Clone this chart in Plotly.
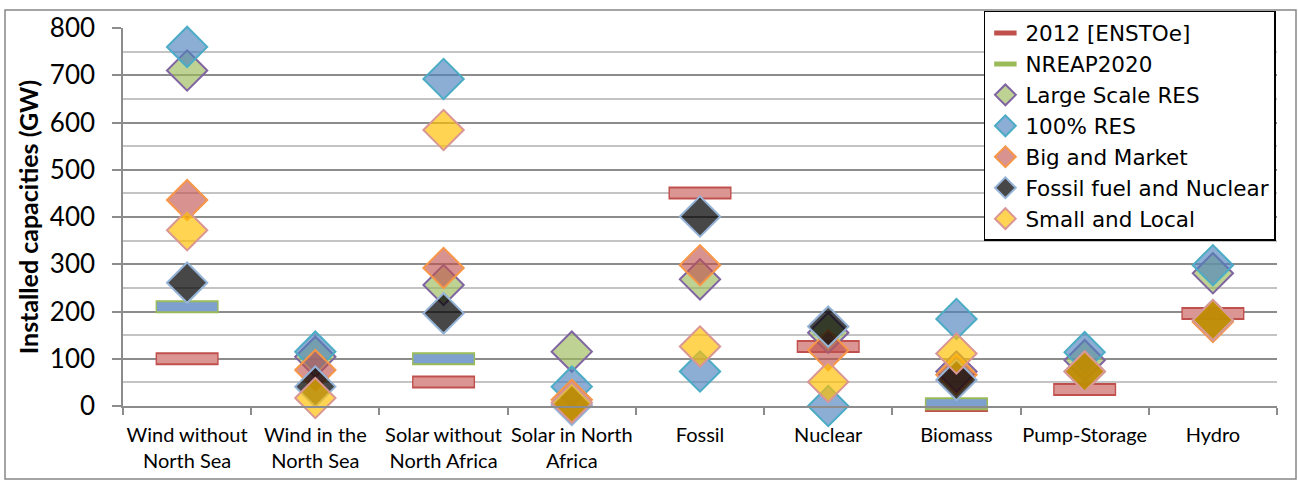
import plotly.graph_objects as go

categories = ["Wind without<br>North Sea", "Wind in the<br>North Sea", "Solar without<br>North Africa",
              "Solar in North<br>Africa", "Fossil", "Nuclear", "Biomass", "Pump-Storage", "Hydro"]

enstoe_2012 = [100, None, 51, None, 451, 126, 1, 35, 196]
nreap_2020 = [210, None, 100, None, None, None, 5, None, None]
large_scale_res = [710, 104, 256, 115, 268, 155, 73, 97, 281]
res_100 = [760, 115, 692, 41, 73, 0, 184, 114, 298]
big_and_market = [436, 76, 292, 13, 298, 118, 66, 73, 178]
fossil_and_nuclear = [261, 41, 196, 2, 401, 168, 55, 73, 182]
small_and_local = [372, 17, 584, 7, 126, 51, 111, 73, 182]

FONT = "Lato"
LEGEND_FONT = "DejaVu Sans"
fig = go.Figure()

def add_bar(name, values, fill, edge):
    # edge (outer) and fill (inner) horizontal dash markers
    fig.add_trace(go.Scatter(x=categories, y=values, name=name, mode="markers", cliponaxis=False,
                             legendgroup=name, showlegend=True,
                             marker=dict(symbol="line-ew", size=45, color=edge,
                                         line=dict(color=edge, width=13))))
    fig.add_trace(go.Scatter(x=categories, y=values, name=name, mode="markers", cliponaxis=False,
                             legendgroup=name, showlegend=False, hoverinfo="skip",
                             marker=dict(symbol="line-ew", size=43, color=fill,
                                         line=dict(color=fill, width=9))))

def add_diamond(name, values, fill, edge):
    fig.add_trace(go.Scatter(x=categories, y=values, name=name, mode="markers", cliponaxis=False,
                             marker=dict(symbol="diamond", size=31, color=fill,
                                         line=dict(color=edge, width=2))))

add_bar("2012 [ENSTOe]", enstoe_2012, "rgb(219,150,148)", "#C0504D")
add_bar("NREAP2020", nreap_2020, "rgb(125,160,207)", "#9BBB59")
add_diamond("Large Scale RES", large_scale_res, "rgba(155,187,89,0.65)", "#8064A2")
add_diamond("100% RES", res_100, "rgba(79,129,189,0.65)", "#4BACC6")
add_diamond("Big and Market", big_and_market, "rgba(192,80,77,0.62)", "#F79646")
add_diamond("Fossil fuel and Nuclear", fossil_and_nuclear, "rgba(0,0,0,0.72)", "#95B3D7")
add_diamond("Small and Local", small_and_local, "rgba(255,192,0,0.68)", "#DA9694")

fig.update_layout(
    width=1298, height=482,
    margin=dict(l=123, r=21, t=28, b=76, autoexpand=False),
    paper_bgcolor="white", plot_bgcolor="white",
    font=dict(family=FONT, color="black"),
    showlegend=True,
    legend=dict(x=0.746, y=1.045, xanchor="left", yanchor="top",
                bgcolor="white", bordercolor="black", borderwidth=1.5,
                font=dict(family=LEGEND_FONT, size=21.5, color="black"),
                tracegroupgap=0, itemsizing="trace", maxheight=400),
    xaxis=dict(type="category", range=[-0.5, 8.5], showgrid=False, automargin=False,
               showline=True, linecolor="#8c8c8c", linewidth=1.5,
               ticks="outside", tickson="boundaries", ticklen=7, tickcolor="#8c8c8c", tickwidth=1.5,
               ticklabelstandoff=10, tickangle=0,
               tickfont=dict(family=FONT, size=20, color="black")),
    yaxis=dict(range=[0, 800], dtick=100, showgrid=True, gridcolor="#8c8c8c", gridwidth=1.5,
               automargin=False,
               minor=dict(dtick=50, showgrid=True, gridcolor="#c4c4c4", gridwidth=1.5),
               showline=True, linecolor="#8c8c8c", linewidth=1.5, zeroline=False,
               ticks="outside", ticklen=9, tickcolor="#8c8c8c", tickwidth=1.5,
               ticklabelstandoff=12,
               tickfont=dict(family=FONT, size=26, color="black"),
               title=dict(text="<b>Installed capacities (GW)</b>",
                          font=dict(family=FONT, size=25, color="black", weight="bold"),
                          standoff=4)),
    shapes=[dict(type="rect", xref="paper", yref="paper",
                 x0=(5 - 123) / 1154, x1=(1296 - 123) / 1154,
                 y0=(406 - 479) / 378, y1=(406 - 10) / 378,
                 line=dict(color="#868686", width=1.5), fillcolor="rgba(0,0,0,0)", layer="below")],
)

fig.write_html("out.html")
